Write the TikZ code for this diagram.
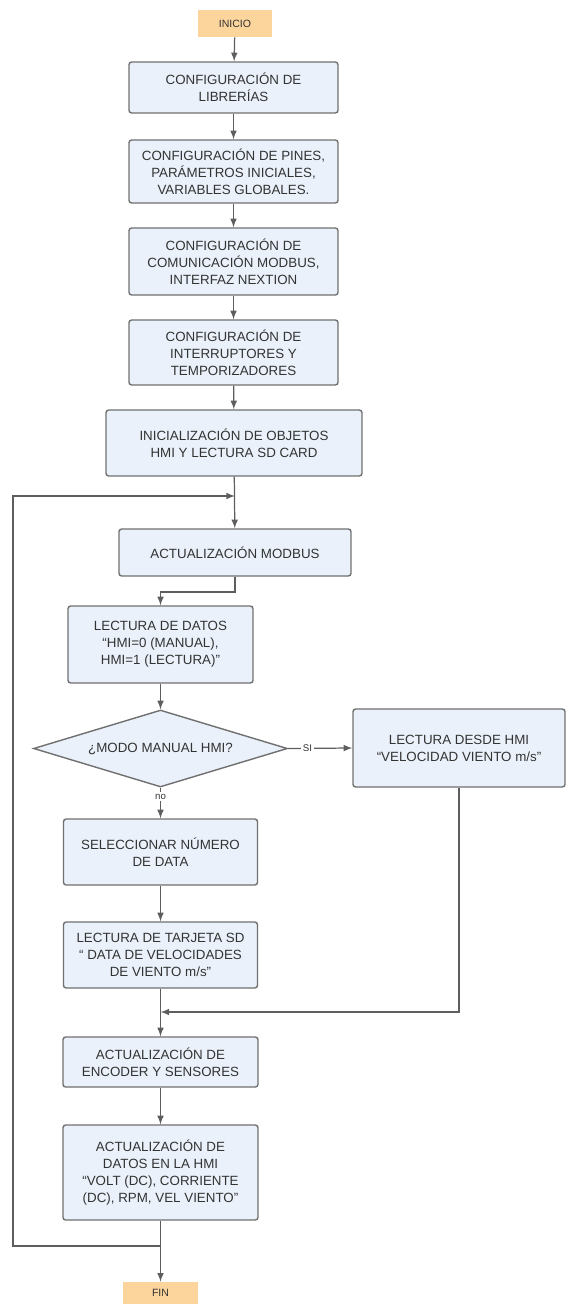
\documentclass[tikz,border=0pt]{standalone}
\usepackage{xcolor}
\usepackage{fontspec}
\setmainfont{Liberation Sans}
\usepackage{tikz}
\usetikzlibrary{calc}
\usetikzlibrary{arrows}
\usetikzlibrary{shapes}
\usetikzlibrary{shapes.geometric}

\definecolor{boxfill}{HTML}{EAF1FA}
\definecolor{boxline}{HTML}{707070}
\definecolor{termfill}{HTML}{FCD59C}
\definecolor{wire}{HTML}{5E5E5E}
\definecolor{txt}{HTML}{333333}

\begin{document}
\begin{tikzpicture}[x=0.02cm, y=-0.02cm,
  box/.style={rectangle, rounded corners=1.5pt, draw=boxline, line width=0.8pt, fill=boxfill, text=txt, align=center, inner sep=2pt, font=\fontsize{7.6}{9.6}\selectfont},
  term/.style={rectangle, fill=termfill, text=txt, minimum width=1.5cm, font=\fontsize{6}{7}\selectfont},
  decide/.style={diamond, shape aspect=3.3, draw=boxline, line width=0.8pt, fill=boxfill, text=txt, inner sep=0pt, font=\fontsize{7.6}{9.6}\selectfont},
  arr/.style={-latex, draw=wire, line width=0.7pt},
  lbl/.style={fill=white, text=txt, inner sep=1pt, font=\fontsize{5.5}{6}\selectfont}]
\useasboundingbox (0, 0) rectangle (566, 1304);
\node [term, minimum height=0.54cm] (inicio) at (235, 23.5) {INICIO};
\node [box, minimum width=4.18cm, minimum height=1.02cm] (conflib) at (233.5, 87.5) {CONFIGURACIÓN DE\\LIBRERÍAS};
\node [box, minimum width=4.18cm, minimum height=1.26cm] (confpines) at (233.5, 171.5) {CONFIGURACIÓN DE PINES,\\PARÁMETROS INICIALES,\\VARIABLES GLOBALES.};
\node [box, minimum width=4.18cm, minimum height=1.34cm] (confmodbus) at (233.5, 261.5) {CONFIGURACIÓN DE\\COMUNICACIÓN MODBUS,\\INTERFAZ NEXTION};
\node [box, minimum width=4.18cm, minimum height=1.30cm] (conftimers) at (233.5, 352.5) {CONFIGURACIÓN DE\\INTERRUPTORES Y\\TEMPORIZADORES};
\node [box, minimum width=5.12cm, minimum height=1.32cm] (inithmi) at (234, 443) {INICIALIZACIÓN DE OBJETOS\\HMI Y LECTURA SD CARD};
\coordinate (loopin) at (235, 496);
\node [box, minimum width=4.64cm, minimum height=0.94cm] (actmodbus) at (235, 552.5) {ACTUALIZACIÓN MODBUS};
\coordinate (bend1) at (235, 592);
\node [box, minimum width=3.70cm, minimum height=1.54cm] (lecdatos) at (160.5, 644.5) {LECTURA DE DATOS\\``HMI=0 (MANUAL),\\HMI=1 (LECTURA)''};
\node [decide, minimum width=5.08cm, minimum height=1.54cm] (modo) at (160.5, 748.5) {¿MODO MANUAL HMI?};
\node [box, minimum width=4.24cm, minimum height=1.56cm] (lechmi) at (459, 748) {LECTURA DESDE HMI\\``VELOCIDAD VIENTO m/s''};
\node [box, minimum width=3.88cm, minimum height=1.32cm] (seldata) at (160.5, 852) {SELECCIONAR NÚMERO\\DE DATA};
\node [box, minimum width=3.88cm, minimum height=1.32cm] (lecsd) at (160.5, 955) {LECTURA DE TARJETA SD\\`` DATA DE VELOCIDADES\\DE VIENTO m/s''};
\coordinate (join) at (160.5, 1012);
\node [box, minimum width=3.90cm, minimum height=1.00cm] (actenc) at (160.5, 1062) {ACTUALIZACIÓN DE\\ENCODER Y SENSORES};
\node [box, minimum width=3.90cm, minimum height=1.90cm] (acthmi) at (160.5, 1172.5) {ACTUALIZACIÓN DE\\DATOS EN LA HMI\\``VOLT (DC), CORRIENTE\\(DC), RPM, VEL VIENTO''};
\coordinate (loopout) at (160.5, 1246);
\coordinate (loopdown) at (13, 1246);
\coordinate (loopup) at (13, 496);
\node [term, minimum height=0.44cm] (fin) at (160.5, 1293) {FIN};
% main sequence
\draw [arr] (inicio) to (conflib);
\draw [arr] (conflib) to (confpines);
\draw [arr] (confpines) to (confmodbus);
\draw [arr] (confmodbus) to (conftimers);
\draw [arr] (conftimers) to (inithmi);
\draw [arr] (inithmi) to (actmodbus);
\draw [arr] (actmodbus) -- (bend1) -| (lecdatos);
\draw [arr] (lecdatos) to (modo);
\draw [arr] (modo.east) to node [lbl, pos=0.3] {SI} (lechmi.west);
\draw [arr] (modo.south) to node [lbl, pos=0.3] {no} (seldata.north);
\draw [arr] (seldata) to (lecsd);
\draw [arr] (lecsd) to (actenc);
\draw [arr] (lechmi.south) |- (join);
\draw [arr] (actenc) to (acthmi);
\draw [arr] (acthmi) to (fin);
% loop back
\draw [arr] (loopout) -- (loopdown) -- (loopup) -- (loopin);
\end{tikzpicture}
\end{document}
